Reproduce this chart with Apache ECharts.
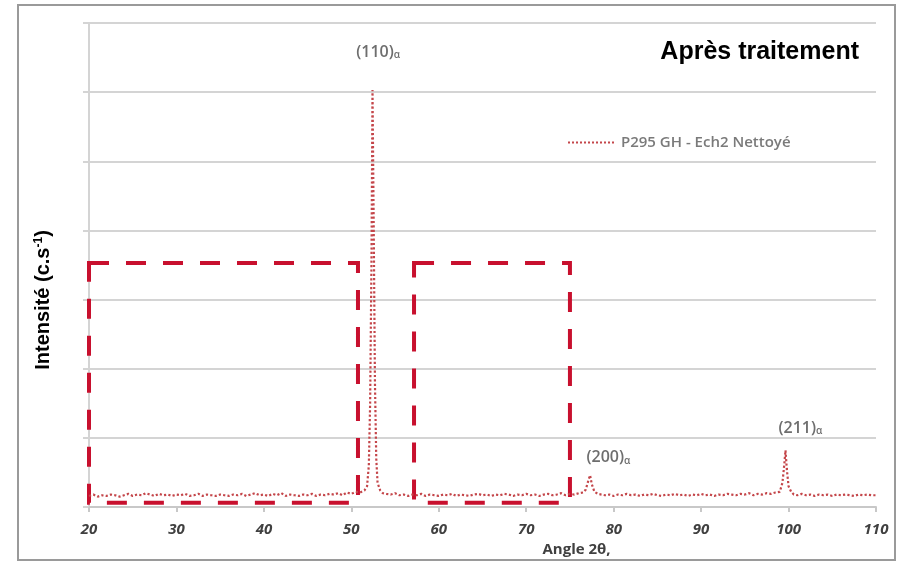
<!DOCTYPE html>
<html><head><meta charset="utf-8">
<script src="https://cdn.jsdelivr.net/npm/echarts@6/dist/echarts.min.js"></script>
<style>html,body{margin:0;padding:0;background:#fff}#c{width:900px;height:562px}</style>
</head><body><div id="c"></div>
<script>
// X-ray diffraction scan: [angle 2θ, intensity]
const scan = [
[20,0.16],[20.5,0.18],[21,0.15],[21.5,0.17],[22,0.16],[22.5,0.18],[23,0.17],[23.5,0.15],[24,0.17],[24.5,0.19],
[25,0.16],[25.5,0.18],[26,0.17],[26.5,0.20],[27,0.18],[27.5,0.16],[28,0.19],[28.5,0.17],[29,0.18],[29.5,0.16],
[30,0.18],[30.5,0.17],[31,0.19],[31.5,0.16],[32,0.17],[32.5,0.19],[33,0.16],[33.5,0.18],[34,0.17],[34.5,0.16],
[35,0.18],[35.5,0.17],[36,0.16],[36.5,0.18],[37,0.17],[37.5,0.19],[38,0.16],[38.5,0.18],[39,0.20],[39.5,0.17],
[40,0.18],[40.5,0.16],[41,0.19],[41.5,0.17],[42,0.20],[42.5,0.16],[43,0.18],[43.5,0.17],[44,0.16],[44.5,0.18],
[45,0.17],[45.5,0.19],[46,0.16],[46.5,0.18],[47,0.17],[47.5,0.19],[48,0.18],[48.5,0.20],[49,0.17],[49.5,0.21],
[50,0.19],[50.5,0.22],[51,0.21],[51.5,0.24],[51.8,0.30],[52.0,0.60],[52.15,1.5],[52.3,3.5],[52.42,6.03],[52.55,4.2],
[52.7,1.8],[52.85,0.7],[53.0,0.35],[53.3,0.24],[53.6,0.20],[54,0.19],[54.5,0.18],[55,0.20],[55.5,0.17],[56,0.18],
[56.5,0.16],[57,0.18],[57.5,0.17],[58,0.19],[58.5,0.16],[59,0.18],[59.5,0.17],[60,0.16],[60.5,0.18],[61,0.17],
[61.5,0.19],[62,0.16],[62.5,0.18],[63,0.17],[63.5,0.16],[64,0.18],[64.5,0.19],[65,0.17],[65.5,0.18],[66,0.16],
[66.5,0.18],[67,0.17],[67.5,0.19],[68,0.18],[68.5,0.16],[69,0.18],[69.5,0.17],[70,0.19],[70.5,0.17],[71,0.18],
[71.5,0.16],[72,0.18],[72.5,0.19],[73,0.17],[73.5,0.18],[74,0.20],[74.5,0.17],[75,0.19],[75.5,0.18],[76,0.20],
[76.5,0.21],[76.8,0.25],[77.1,0.38],[77.3,0.46],[77.5,0.33],[77.8,0.22],[78.2,0.19],[78.6,0.18],[79,0.17],[79.5,0.18],
[80,0.16],[80.5,0.18],[81,0.17],[81.5,0.19],[82,0.17],[82.5,0.18],[83,0.16],[83.5,0.18],[84,0.17],[84.5,0.19],
[85,0.17],[85.5,0.16],[86,0.18],[86.5,0.17],[87,0.19],[87.5,0.17],[88,0.18],[88.5,0.16],[89,0.18],[89.5,0.17],
[90,0.19],[90.5,0.17],[91,0.18],[91.5,0.16],[92,0.18],[92.5,0.17],[93,0.19],[93.5,0.18],[94,0.17],[94.5,0.19],
[95,0.18],[95.5,0.20],[96,0.17],[96.5,0.19],[97,0.18],[97.5,0.20],[98,0.19],[98.5,0.21],[99.0,0.22],[99.3,0.35],
[99.5,0.60],[99.65,0.82],[99.8,0.55],[100.0,0.30],[100.3,0.22],[100.6,0.18],[101,0.17],[101.5,0.19],[102,0.17],[102.5,0.18],
[103,0.16],[103.5,0.18],[104,0.17],[104.5,0.18],[105,0.16],[105.5,0.18],[106,0.17],[106.5,0.18],[107,0.17],[107.5,0.16],
[108,0.18],[108.5,0.17],[109,0.18],[109.5,0.17],[110,0.17]
];
const seriesName = 'P295 GH - Ech2 Nettoyé';
const peakLabels = [
  {name:'(110)', coord:[53.07, 6.58]},
  {name:'(200)', coord:[79.4, 0.71]},
  {name:'(211)', coord:[101.35, 1.14]}
];
const zones = [ [[20, 3.53],[50.76, 0.06]], [[57.17, 3.53],[75.0, 0.06]] ];
const xTicks = {min:20, max:110, interval:10};
const yTicks = {min:0, max:7, interval:1};

const chart = echarts.init(document.getElementById('c'), null, {renderer:'canvas'});
chart.setOption({
  animation:false,
  backgroundColor:'#fff',
  title:{text:'Après traitement', right:36, top:35,
    textStyle:{fontFamily:'Liberation Sans, Arial', fontWeight:'bold', fontSize:25, color:'#000'}},
  legend:{left:562, top:130, itemWidth:48, itemHeight:10, itemGap:8,
    itemStyle:{opacity:0},
    textStyle:{fontFamily:'Open Sans', fontWeight:600, fontSize:15, color:'#7a7a7a'},
    data:[seriesName]},
  grid:{left:89, right:24, top:23, bottom:55},
  xAxis:{type:'value', min:xTicks.min, max:xTicks.max, interval:xTicks.interval,
    name:'Angle 2θ,', nameLocation:'middle', nameGap:35,
    nameTextStyle:{fontFamily:'Open Sans', fontWeight:'bold', fontSize:15, color:'#404040', align:'left', padding:[0,0,0,60]},
    axisLine:{show:true, lineStyle:{color:'#c8c8c8', width:2}},
    axisTick:{show:true, length:5, lineStyle:{color:'#c8c8c8', width:2}},
    splitLine:{show:false},
    axisLabel:{fontFamily:'Open Sans', fontStyle:'italic', fontWeight:'bold', fontSize:15, color:'#404040', margin:15}},
  yAxis:{type:'value', min:yTicks.min, max:yTicks.max, interval:yTicks.interval,
    name:'{m|Intensité (c.s}{s|-1}{m|)}', nameLocation:'middle', nameGap:35,
    nameTextStyle:{padding:[0,70,0,0], rich:{
      m:{fontFamily:'Liberation Sans, Arial', fontWeight:'bold', fontSize:20, color:'#000'},
      s:{fontFamily:'Liberation Sans, Arial', fontWeight:'bold', fontSize:12, color:'#000', verticalAlign:'top', padding:[0,0,9,0]}}},
    axisLine:{show:true, lineStyle:{color:'#d4d4d4', width:2}},
    axisTick:{show:true, length:6, lineStyle:{color:'#d4d4d4', width:2}},
    axisLabel:{show:false},
    splitLine:{show:true, lineStyle:{color:'#d4d4d4', width:2}}},
  graphic:[{type:'rect', shape:{x:18, y:5, width:877, height:555}, silent:true,
    style:{fill:'none', stroke:'#9a9a9a', lineWidth:2}}],
  series:[{
    name:seriesName, type:'line', data:scan, symbol:'none', smooth:false,
    lineStyle:{color:'#c4464a', width:2.2, type:'dotted'},
    itemStyle:{color:'#c4464a'},
    markArea:{silent:true,
      itemStyle:{color:'rgba(0,0,0,0)', borderColor:'#c8102e', borderWidth:4, borderType:[20,17]},
      data: zones.map(z => [{xAxis:z[0][0], yAxis:z[0][1]}, {xAxis:z[1][0], yAxis:z[1][1]}])},
    markPoint:{silent:true, symbol:'circle', symbolSize:0,
      label:{show:true, position:'inside', formatter:p => '{a|' + p.name + '}{s|α}',
        rich:{a:{fontFamily:'Open Sans', fontWeight:600, fontSize:16, color:'#6e6e6e'},
              s:{fontFamily:'Open Sans', fontWeight:600, fontSize:10, color:'#6e6e6e', verticalAlign:'bottom', padding:[6,0,0,0]}}},
      data: peakLabels.map(p => ({name:p.name, coord:p.coord}))}
  }]
});
</script></body></html>
